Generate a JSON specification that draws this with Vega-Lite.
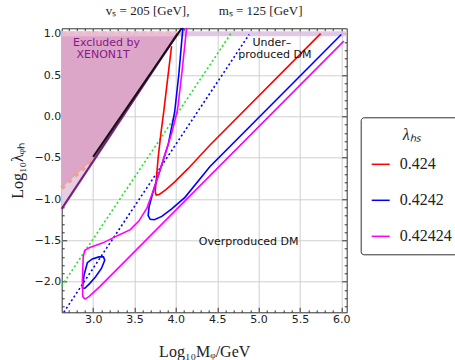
{
  "$schema": "https://vega.github.io/schema/vega-lite/v6.json",
  "width": 285,
  "height": 284,
  "autosize": {"type": "none"},
  "padding": {"left": 61.7, "top": 28.3, "right": 108.3, "bottom": 47.7},
  "background": "white",
  "title": {"text": "vₛ = 205 [GeV],\u2003\u2003 mₛ = 125 [GeV]", "font": "Liberation Serif", "fontSize": 13, "fontWeight": "normal", "anchor": "middle", "offset": 6, "color": "#222"},
  "config": {"view": {"stroke": "#333", "strokeWidth": 1}},
  "datasets": {
    "excl": [{"x": 2.62, "y": -0.87, "y2": 1.0}, {"x": 3.0, "y": -0.53, "y2": 1.0}, {"x": 4.02, "y": 1.0, "y2": 1.0}],
    "lav": [{"x": 2.62, "y": -1.12, "y2": -0.87}, {"x": 3.0, "y": -0.545, "y2": -0.52}],
    "band": [{"x": 2.62, "y": 1.0}, {"x": 6.065, "y": 1.0}],
    "bandl": [{"x": 2.62, "y": 1.0}, {"x": 4.05, "y": 1.0}],
    "salmon": [{"x": 2.62, "y": -0.87}, {"x": 3.0, "y": -0.52}],
    "purple": [{"x": 2.62, "y": -1.12}, {"x": 4.02, "y": 1.0}],
    "black": [{"x": 3.0, "y": -0.49}, {"x": 4.07, "y": 1.065}],
    "green": [{"x": 2.62, "y": -2.05}, {"x": 4.665, "y": 1.0}],
    "bluedot": [{"x": 2.645, "y": -2.37}, {"x": 4.886, "y": 0.99}],
    "curves": [
      {"lam": "0.424", "seg": "r", "i": 1, "x": 3.948, "y": 0.85},
      {"lam": "0.424", "seg": "r", "i": 2, "x": 3.9, "y": 0.45},
      {"lam": "0.424", "seg": "r", "i": 3, "x": 3.855, "y": 0.07},
      {"lam": "0.424", "seg": "r", "i": 4, "x": 3.82, "y": -0.2},
      {"lam": "0.424", "seg": "r", "i": 5, "x": 3.786, "y": -0.5},
      {"lam": "0.424", "seg": "r", "i": 6, "x": 3.762, "y": -0.78},
      {"lam": "0.424", "seg": "r", "i": 7, "x": 3.75, "y": -0.91},
      {"lam": "0.424", "seg": "r", "i": 8, "x": 3.762, "y": -0.952},
      {"lam": "0.424", "seg": "r", "i": 9, "x": 3.8, "y": -0.945},
      {"lam": "0.424", "seg": "r", "i": 10, "x": 3.88, "y": -0.885},
      {"lam": "0.424", "seg": "r", "i": 11, "x": 3.99, "y": -0.79},
      {"lam": "0.424", "seg": "r", "i": 12, "x": 4.15, "y": -0.63},
      {"lam": "0.424", "seg": "r", "i": 13, "x": 4.41, "y": -0.35},
      {"lam": "0.424", "seg": "r", "i": 14, "x": 5.75, "y": 1.0},
      {"lam": "0.4242", "seg": "b1", "i": 1, "x": 4.085, "y": 1.07},
      {"lam": "0.4242", "seg": "b1", "i": 2, "x": 4.035, "y": 0.5},
      {"lam": "0.4242", "seg": "b1", "i": 3, "x": 3.985, "y": 0.05},
      {"lam": "0.4242", "seg": "b1", "i": 4, "x": 3.91, "y": -0.33},
      {"lam": "0.4242", "seg": "b1", "i": 5, "x": 3.81, "y": -0.65},
      {"lam": "0.4242", "seg": "b1", "i": 6, "x": 3.73, "y": -0.89},
      {"lam": "0.4242", "seg": "b1", "i": 7, "x": 3.675, "y": -1.1},
      {"lam": "0.4242", "seg": "b1", "i": 8, "x": 3.665, "y": -1.2},
      {"lam": "0.4242", "seg": "b1", "i": 9, "x": 3.69, "y": -1.245},
      {"lam": "0.4242", "seg": "b1", "i": 10, "x": 3.74, "y": -1.25},
      {"lam": "0.4242", "seg": "b1", "i": 11, "x": 3.83, "y": -1.21},
      {"lam": "0.4242", "seg": "b1", "i": 12, "x": 3.95, "y": -1.12},
      {"lam": "0.4242", "seg": "b1", "i": 13, "x": 4.11, "y": -0.98},
      {"lam": "0.4242", "seg": "b1", "i": 14, "x": 4.41, "y": -0.61},
      {"lam": "0.4242", "seg": "b1", "i": 15, "x": 6.0, "y": 0.99},
      {"lam": "0.4242", "seg": "b2", "i": 1, "x": 2.87, "y": -2.08},
      {"lam": "0.4242", "seg": "b2", "i": 2, "x": 2.89, "y": -1.92},
      {"lam": "0.4242", "seg": "b2", "i": 3, "x": 2.93, "y": -1.77},
      {"lam": "0.4242", "seg": "b2", "i": 4, "x": 2.99, "y": -1.725},
      {"lam": "0.4242", "seg": "b2", "i": 5, "x": 3.07, "y": -1.7},
      {"lam": "0.4242", "seg": "b2", "i": 6, "x": 3.125, "y": -1.7},
      {"lam": "0.4242", "seg": "b2", "i": 7, "x": 3.14, "y": -1.74},
      {"lam": "0.4242", "seg": "b2", "i": 8, "x": 3.1, "y": -1.84},
      {"lam": "0.4242", "seg": "b2", "i": 9, "x": 3.03, "y": -1.94},
      {"lam": "0.4242", "seg": "b2", "i": 10, "x": 2.96, "y": -2.02},
      {"lam": "0.4242", "seg": "b2", "i": 11, "x": 2.9, "y": -2.08},
      {"lam": "0.4242", "seg": "b2", "i": 12, "x": 2.87, "y": -2.08},
      {"lam": "0.42424", "seg": "m", "i": 1, "x": 4.13, "y": 1.07},
      {"lam": "0.42424", "seg": "m", "i": 2, "x": 4.07, "y": 0.5},
      {"lam": "0.42424", "seg": "m", "i": 3, "x": 4.02, "y": 0.076},
      {"lam": "0.42424", "seg": "m", "i": 4, "x": 3.948, "y": -0.207},
      {"lam": "0.42424", "seg": "m", "i": 5, "x": 3.846, "y": -0.53},
      {"lam": "0.42424", "seg": "m", "i": 6, "x": 3.73, "y": -0.89},
      {"lam": "0.42424", "seg": "m", "i": 7, "x": 3.65, "y": -1.11},
      {"lam": "0.42424", "seg": "m", "i": 8, "x": 3.55, "y": -1.27},
      {"lam": "0.42424", "seg": "m", "i": 9, "x": 3.45, "y": -1.37},
      {"lam": "0.42424", "seg": "m", "i": 10, "x": 3.3, "y": -1.44},
      {"lam": "0.42424", "seg": "m", "i": 11, "x": 3.12, "y": -1.53},
      {"lam": "0.42424", "seg": "m", "i": 12, "x": 2.96, "y": -1.585},
      {"lam": "0.42424", "seg": "m", "i": 13, "x": 2.9, "y": -1.62},
      {"lam": "0.42424", "seg": "m", "i": 14, "x": 2.88, "y": -1.7},
      {"lam": "0.42424", "seg": "m", "i": 15, "x": 2.87, "y": -1.99},
      {"lam": "0.42424", "seg": "m", "i": 16, "x": 2.875, "y": -2.18},
      {"lam": "0.42424", "seg": "m", "i": 17, "x": 2.9, "y": -2.21},
      {"lam": "0.42424", "seg": "m", "i": 18, "x": 2.95, "y": -2.18},
      {"lam": "0.42424", "seg": "m", "i": 19, "x": 3.08, "y": -2.06},
      {"lam": "0.42424", "seg": "m", "i": 20, "x": 6.03, "y": 0.91}
    ],
    "notesExcl": [{"x": 3.162, "y": 0.888, "label": "Excluded by"}, {"x": 3.121, "y": 0.745, "label": "XENON1T"}],
    "notesDm": [{"x": 5.16, "y": 0.888, "label": "Under–"}, {"x": 5.197, "y": 0.74, "label": "produced DM"}, {"x": 4.88, "y": -1.525, "label": "Overproduced DM"}]
  },
  "layer": [
    {
      "data": {"name": "excl"},
      "mark": {"type": "area", "color": "#dca6c8", "opacity": 1},
      "encoding": {
        "x": {"field": "x", "type": "quantitative", "scale": {"domain": [2.62, 6.065], "nice": false, "zero": false},
          "axis": {"orient": "bottom", "values": [2.7, 2.8, 2.9, 3.0, 3.1, 3.2, 3.3, 3.4, 3.5, 3.6, 3.7, 3.8, 3.9, 4.0, 4.1, 4.2, 4.3, 4.4, 4.5, 4.6, 4.7, 4.8, 4.9, 5.0, 5.1, 5.2, 5.3, 5.4, 5.5, 5.6, 5.7, 5.8, 5.9, 6.0],
            "labelExpr": "abs(datum.value*2 - round(datum.value*2)) < 0.01 ? format(datum.value, '.1f') : ''",
            "labelOverlap": false, "labelBound": false, "labelFont": "DejaVu Sans", "labelFontSize": 11, "labelColor": "#222", "labelPadding": 6,
            "ticks": true, "tickColor": "#333", "tickSize": {"condition": {"test": "abs(datum.value*2 - round(datum.value*2)) < 0.01", "value": -5}, "value": -2.5},
            "domain": false, "grid": true, "gridColor": "#cfcfcf", "gridOpacity": {"condition": {"test": "abs(datum.value*2 - round(datum.value*2)) < 0.01", "value": 1}, "value": 0},
            "title": "Log₁₀Mᵩ/GeV", "titleFont": "Liberation Serif", "titleFontSize": 16, "titleFontWeight": "normal", "titleColor": "#222", "titleX": 142.5, "titleY": 39.4, "titleBaseline": "middle", "titleAlign": "center"}},
        "y": {"field": "y", "type": "quantitative", "scale": {"domain": [-2.37, 1.065], "nice": false, "zero": false},
          "axis": {"orient": "left", "values": [-2.3, -2.2, -2.1, -2.0, -1.9, -1.8, -1.7, -1.6, -1.5, -1.4, -1.3, -1.2, -1.1, -1.0, -0.9, -0.8, -0.7, -0.6, -0.5, -0.4, -0.3, -0.2, -0.1, 0.0, 0.1, 0.2, 0.3, 0.4, 0.5, 0.6, 0.7, 0.8, 0.9, 1.0],
            "labelExpr": "abs(datum.value*2 - round(datum.value*2)) < 0.01 ? format(datum.value, '.1f') : ''",
            "labelOverlap": false, "labelBound": false, "labelFont": "DejaVu Sans", "labelFontSize": 11, "labelColor": "#222", "labelPadding": 6,
            "ticks": true, "tickColor": "#333", "tickSize": {"condition": {"test": "abs(datum.value*2 - round(datum.value*2)) < 0.01", "value": -5}, "value": -2.5},
            "domain": false, "grid": true, "gridColor": "#cfcfcf", "gridOpacity": {"condition": {"test": "abs(datum.value*2 - round(datum.value*2)) < 0.01", "value": 1}, "value": 0},
            "title": "Log₁₀λᵩₕ", "titleFont": "Liberation Serif", "titleFontSize": 16, "titleFontWeight": "normal", "titleColor": "#222", "titleX": -44, "titleY": 142, "titleAngle": 270, "titleBaseline": "middle", "titleAlign": "center"}},
        "y2": {"field": "y2"}
      }
    },
    {
      "data": {"name": "lav"},
      "mark": {"type": "area", "color": "#e6cde4", "opacity": 1},
      "encoding": {
        "x": {"field": "x", "type": "quantitative",
          "axis": {"orient": "top", "values": [2.7, 2.8, 2.9, 3.0, 3.1, 3.2, 3.3, 3.4, 3.5, 3.6, 3.7, 3.8, 3.9, 4.0, 4.1, 4.2, 4.3, 4.4, 4.5, 4.6, 4.7, 4.8, 4.9, 5.0, 5.1, 5.2, 5.3, 5.4, 5.5, 5.6, 5.7, 5.8, 5.9, 6.0],
            "labels": false, "ticks": true, "tickColor": "#333", "tickSize": {"condition": {"test": "abs(datum.value*2 - round(datum.value*2)) < 0.01", "value": -5}, "value": -2.5},
            "domain": false, "grid": false, "title": null}},
        "y": {"field": "y", "type": "quantitative",
          "axis": {"orient": "right", "values": [-2.3, -2.2, -2.1, -2.0, -1.9, -1.8, -1.7, -1.6, -1.5, -1.4, -1.3, -1.2, -1.1, -1.0, -0.9, -0.8, -0.7, -0.6, -0.5, -0.4, -0.3, -0.2, -0.1, 0.0, 0.1, 0.2, 0.3, 0.4, 0.5, 0.6, 0.7, 0.8, 0.9, 1.0],
            "labels": false, "ticks": true, "tickColor": "#333", "tickSize": {"condition": {"test": "abs(datum.value*2 - round(datum.value*2)) < 0.01", "value": -5}, "value": -2.5},
            "domain": false, "grid": false, "title": null}},
        "y2": {"field": "y2"}
      }
    },
    {
      "data": {"name": "band"},
      "mark": {"type": "line", "color": "#dfc3e3", "strokeWidth": 5, "opacity": 0.9},
      "encoding": {"x": {"field": "x", "type": "quantitative", "axis": null}, "y": {"field": "y", "type": "quantitative", "axis": null}}
    },
    {
      "data": {"name": "bandl"},
      "mark": {"type": "line", "color": "#f2b8c4", "strokeWidth": 5, "strokeDash": [5, 3], "opacity": 0.9},
      "encoding": {"x": {"field": "x", "type": "quantitative", "axis": null}, "y": {"field": "y", "type": "quantitative", "axis": null}}
    },
    {
      "data": {"name": "salmon"},
      "mark": {"type": "line", "color": "#e9a58c", "strokeWidth": 4, "strokeDash": [4, 5]},
      "encoding": {"x": {"field": "x", "type": "quantitative", "axis": null}, "y": {"field": "y", "type": "quantitative", "axis": null}}
    },
    {
      "data": {"name": "purple"},
      "mark": {"type": "line", "color": "#7a1f82", "strokeWidth": 2.2},
      "encoding": {"x": {"field": "x", "type": "quantitative", "axis": null}, "y": {"field": "y", "type": "quantitative", "axis": null}}
    },
    {
      "data": {"name": "black"},
      "mark": {"type": "line", "color": "#111111", "strokeWidth": 2},
      "encoding": {"x": {"field": "x", "type": "quantitative", "axis": null}, "y": {"field": "y", "type": "quantitative", "axis": null}}
    },
    {
      "data": {"name": "green"},
      "mark": {"type": "line", "color": "#22e022", "strokeWidth": 1.6, "strokeDash": [2, 2.5]},
      "encoding": {"x": {"field": "x", "type": "quantitative", "axis": null}, "y": {"field": "y", "type": "quantitative", "axis": null}}
    },
    {
      "data": {"name": "bluedot"},
      "mark": {"type": "line", "color": "#0000ff", "strokeWidth": 1.6, "strokeDash": [2, 2.5]},
      "encoding": {"x": {"field": "x", "type": "quantitative", "axis": null}, "y": {"field": "y", "type": "quantitative", "axis": null}}
    },
    {
      "data": {"name": "curves"},
      "mark": {"type": "line", "strokeWidth": 1.6},
      "encoding": {
        "x": {"field": "x", "type": "quantitative", "axis": null},
        "y": {"field": "y", "type": "quantitative", "axis": null},
        "detail": {"field": "seg"},
        "order": {"field": "i", "type": "quantitative"},
        "color": {"field": "lam", "type": "nominal",
          "scale": {"domain": ["0.424", "0.4242", "0.42424"], "range": ["#ff0000", "#0000ff", "#ff00ff"]},
          "legend": {"orient": "none", "legendX": 299, "legendY": 89, "title": "λₕₛ", "titleFont": "Liberation Serif", "titleFontStyle": "italic", "titleFontSize": 16, "titleFontWeight": "normal", "titleColor": "#222", "titleAnchor": "middle", "titlePadding": 11,
            "labelFont": "Liberation Serif", "labelFontSize": 16, "labelColor": "#222", "labelOffset": 9,
            "symbolType": "stroke", "symbolSize": 324, "symbolStrokeWidth": 1.5, "rowPadding": 18, "padding": 10,
            "strokeColor": "#333", "cornerRadius": 3, "fillColor": "white"}}
      }
    },
    {
      "data": {"name": "notesExcl"},
      "mark": {"type": "text", "color": "#8a158a", "font": "DejaVu Sans", "fontSize": 11, "align": "center", "baseline": "middle"},
      "encoding": {"x": {"field": "x", "type": "quantitative", "axis": null}, "y": {"field": "y", "type": "quantitative", "axis": null}, "text": {"field": "label"}}
    },
    {
      "data": {"name": "notesDm"},
      "mark": {"type": "text", "color": "#111111", "font": "DejaVu Sans", "fontSize": 11, "align": "center", "baseline": "middle"},
      "encoding": {"x": {"field": "x", "type": "quantitative", "axis": null}, "y": {"field": "y", "type": "quantitative", "axis": null}, "text": {"field": "label"}}
    }
  ],
  "resolve": {"axis": {"x": "independent", "y": "independent"}}
}
